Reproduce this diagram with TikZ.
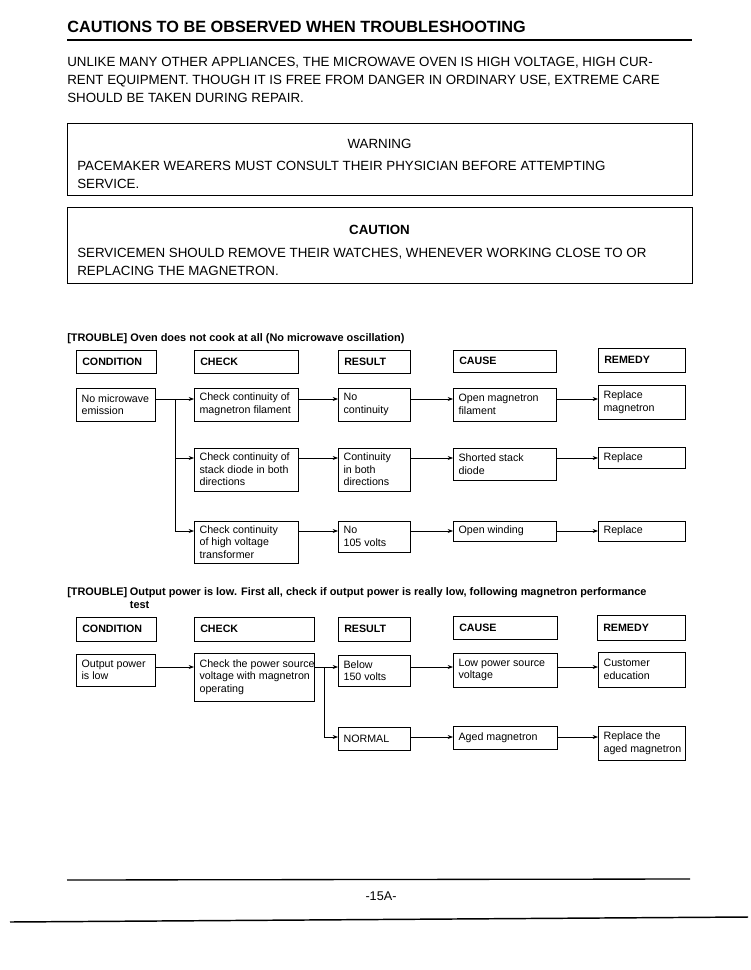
\documentclass[tikz,border=0pt]{standalone}
\usepackage{fontspec}
\setmainfont{Liberation Sans}
\usetikzlibrary{arrows.meta,fit}
\newcommand\bx[6]{%
  \node[bxs, fit={(#2,#3) (#4,#5)}] (#1) {};
  \node[btx] (#1t) at ([xshift=4pt]#1.west) {#6};}
\newcommand\hb[6]{%
  \node[bxs, fit={(#2,#3) (#4,#5)}] (#1) {};
  \node[hdr] (#1t) at ([xshift=4.5pt]#1.west) {#6};}
\begin{document}
\begin{tikzpicture}[x=0.75pt,y=-0.75pt,
  bxs/.style={draw, line width=0.65pt, inner sep=0pt, outer sep=0pt},
  btx/.style={anchor=west, inner sep=0pt, align=left, font=\fontsize{8}{9.4}\selectfont},
  hdr/.style={anchor=west, inner sep=0pt, align=left, font=\fontsize{8}{9.4}\selectfont\bfseries},
  body/.style={anchor=north west, inner sep=0pt, align=left, font=\fontsize{10}{13.5}\selectfont},
  arr/.style={line width=0.55pt, -{Stealth[length=4pt,width=3pt]}},
  rule/.style={line width=#1}]
\fill[white] (0,0) rectangle (750,970);
\useasboundingbox (0,0) rectangle (750,970);

% title
\node[anchor=base west, inner sep=0pt, font=\fontsize{12.2}{14}\selectfont\bfseries] (title) at (67,33) {CAUTIONS TO BE OBSERVED WHEN TROUBLESHOOTING};
\draw[rule=1.5pt] (67,40) -- (692,40);

\node[body] (intro) at (67,57.4) {UNLIKE MANY OTHER APPLIANCES, THE MICROWAVE OVEN IS HIGH VOLTAGE, HIGH CUR-\\RENT EQUIPMENT. THOUGH IT IS FREE FROM DANGER IN ORDINARY USE, EXTREME CARE\\SHOULD BE TAKEN DURING REPAIR.};

% warning
\node[bxs, fit={(67,123) (692,195)}] (warn) {};
\node[anchor=base, inner sep=0pt, font=\fontsize{10}{13.5}\selectfont] (warnh) at (379.5,148) {WARNING};
\node[body] (warnt) at (77,161.4) {PACEMAKER WEARERS MUST CONSULT THEIR PHYSICIAN BEFORE ATTEMPTING\\SERVICE.};

% caution
\node[bxs, fit={(67,207) (692,283)}] (caut) {};
\node[anchor=base, inner sep=0pt, font=\fontsize{10}{13.5}\selectfont\bfseries] (cauth) at (379.5,234) {CAUTION};
\node[body] (cautt) at (77,248.4) {SERVICEMEN SHOULD REMOVE THEIR WATCHES, WHENEVER WORKING CLOSE TO OR\\REPLACING THE MAGNETRON.};

% ---------- trouble 1
\node[anchor=base west, inner sep=0pt, font=\fontsize{8.2}{10}\selectfont\bfseries] (tr1) at (67,341) {[TROUBLE] Oven does not cook at all (No microwave oscillation)};

\hb{h1a}{76}{350}{156}{373}{CONDITION}
\hb{h1b}{194}{350}{298}{373}{CHECK}
\hb{h1c}{338}{350}{410}{373}{RESULT}
\hb{h1d}{453}{350}{556}{372}{CAUSE}
\hb{h1e}{598}{348}{685}{372}{REMEDY}

\bx{nm}{76}{388}{155}{421}{No microwave\\emission}
\bx{cc1}{194}{388}{298}{421}{Check continuity of\\magnetron filament}
\bx{rs1}{338}{388}{410}{421}{No\\continuity}
\bx{ca1}{453}{388}{556}{421}{Open magnetron\\filament}
\bx{rm1}{598}{385}{685}{419}{Replace\\magnetron}

\bx{cc2}{194}{448}{298}{491}{Check continuity of\\stack diode in both\\directions}
\bx{rs2}{338}{448}{410}{491}{Continuity\\in both\\directions}
\bx{ca2}{453}{448}{556}{480}{Shorted stack\\diode}
\bx{rm2}{598}{447}{685}{468}{Replace}

\bx{cc3}{194}{521}{298}{563}{Check continuity\\of high voltage\\transformer}
\bx{rs3}{338}{521}{410}{552}{No\\105 volts}
\bx{ca3}{453}{521}{556}{541}{Open winding}
\bx{rm3}{598}{521}{685}{541}{Replace}

\coordinate (a1) at (0,399);
\coordinate (a2) at (0,458);
\coordinate (a3) at (0,531);
\coordinate (j1) at (175,399);
\draw[arr] (nm.east |- a1) -- (cc1.west |- a1);
\draw[arr] (j1) |- (cc2.west |- a2);
\draw[arr] (j1) |- (cc3.west |- a3);
\draw[arr] (cc1.east |- a1) -- (rs1.west |- a1);
\draw[arr] (rs1.east |- a1) -- (ca1.west |- a1);
\draw[arr] (ca1.east |- a1) -- (rm1.west |- a1);
\draw[arr] (cc2.east |- a2) -- (rs2.west |- a2);
\draw[arr] (rs2.east |- a2) -- (ca2.west |- a2);
\draw[arr] (ca2.east |- a2) -- (rm2.west |- a2);
\draw[arr] (cc3.east |- a3) -- (rs3.west |- a3);
\draw[arr] (rs3.east |- a3) -- (ca3.west |- a3);
\draw[arr] (ca3.east |- a3) -- (rm3.west |- a3);

% ---------- trouble 2
\node[anchor=base west, inner sep=0pt, font=\fontsize{8.2}{10}\selectfont\bfseries] (tr2a) at (67,595) {[TROUBLE]};
\node[anchor=base west, inner sep=0pt, font=\fontsize{8.2}{10}\selectfont\bfseries] (tr2b) at ([xshift=1.5pt]tr2a.base east) {Output power is low. First all, check if output power is really low, following magnetron performance};
\node[anchor=base west, inner sep=0pt, font=\fontsize{8.2}{10}\selectfont\bfseries] (tr2c) at ([yshift=-9.75pt]tr2b.base west) {test};

\hb{h2a}{76}{617}{156}{641}{CONDITION}
\hb{h2b}{194}{617}{314}{641}{CHECK}
\hb{h2c}{338}{617}{410}{641}{RESULT}
\hb{h2d}{453}{616}{557}{639}{CAUSE}
\hb{h2e}{597}{615}{685}{640}{REMEDY}

\bx{op}{76}{654}{155}{686}{Output power\\is low}
\bx{cp}{194}{653}{314}{701}{Check the power source\\voltage with magnetron\\operating}
\bx{bl}{338}{655}{410}{686}{Below\\150 volts}
\bx{lp}{453}{653}{557}{687}{Low power source\\voltage}
\bx{ce}{598}{652}{685}{687}{Customer\\education}

\bx{nr}{338}{727}{410}{750}{NORMAL}
\bx{am}{453}{726}{557}{749}{Aged magnetron}
\bx{ra}{598}{726}{685}{760}{Replace the\\aged magnetron}

\coordinate (b1) at (0,667);
\coordinate (b2) at (0,737);
\coordinate (j2) at (324,667);
\draw[arr] (op.east |- b1) -- (cp.west |- b1);
\draw[arr] (cp.east |- b1) -- (bl.west |- b1);
\draw[arr] (j2) |- (nr.west |- b2);
\draw[arr] (bl.east |- b1) -- (lp.west |- b1);
\draw[arr] (lp.east |- b1) -- (ce.west |- b1);
\draw[arr] (nr.east |- b2) -- (am.west |- b2);
\draw[arr] (am.east |- b2) -- (ra.west |- b2);

% footer
\draw[rule=1pt] (67,880) -- (690,879);
\node[inner sep=0pt, font=\fontsize{9.5}{11}\selectfont] (pg) at (381,896) {-15A-};
\draw[rule=1.1pt] (10,922) -- (748,917);
\end{tikzpicture}
\end{document}
